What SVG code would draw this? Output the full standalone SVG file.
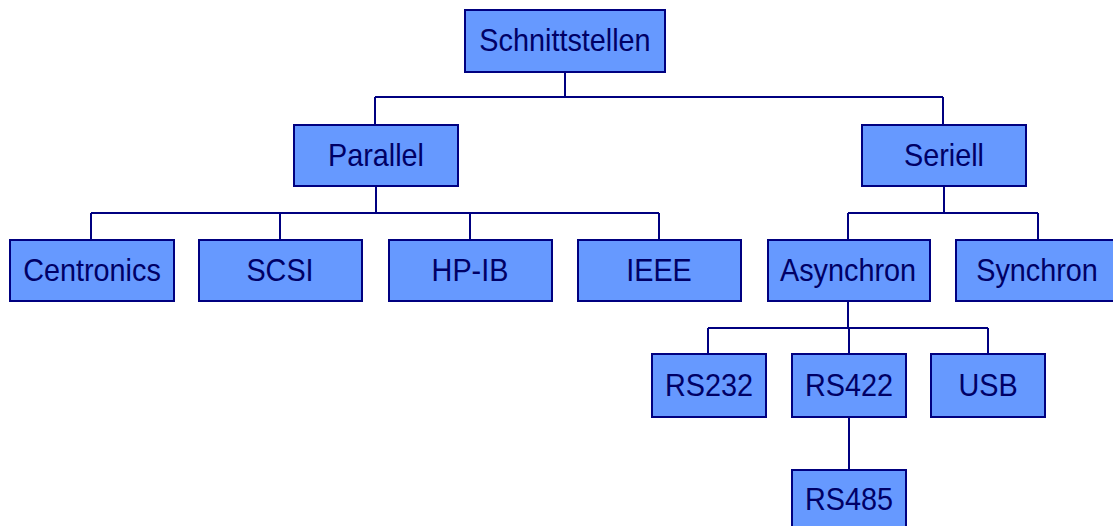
<svg xmlns="http://www.w3.org/2000/svg" width="1113" height="526" viewBox="0 0 1113 526">
  <style>
    .box rect { fill: #6699ff; stroke: #000080; stroke-width: 2; }
    .box text { font-family: "Liberation Sans", Arial, sans-serif; font-size: 32px; fill: #000066; text-anchor: middle; }
    #connectors path { fill: none; stroke: #000080; stroke-width: 2; }
  </style>
  <rect width="1113" height="526" fill="#ffffff"/>

  <g id="connectors">
    <!-- root to first level -->
    <path d="M565 72 V97 M375 97 H943 M375 97 V125 M943 97 V125"/>
    <!-- Parallel branch -->
    <path d="M376 186 V213 M91 213 H659 M91 213 V240 M280 213 V240 M470 213 V240 M659 213 V240"/>
    <!-- Seriell branch -->
    <path d="M944 186 V213 M848 213 H1038 M848 213 V240 M1038 213 V240"/>
    <!-- Asynchron branch -->
    <path d="M848 301 V328 M708 328 H988 M708 328 V354 M849 328 V354 M988 328 V354"/>
    <!-- RS422 to RS485 -->
    <path d="M849 417 V470"/>
  </g>

  <!-- labels are set slightly condensed: scale(0.9 1) around their anchor -->
  <g id="schnittstellen" class="box"><rect x="465" y="10" width="200" height="62"/><text transform="translate(565 51) scale(0.9 1)">Schnittstellen</text></g>
  <g id="parallel" class="box"><rect x="294" y="125" width="164" height="61"/><text transform="translate(376 166) scale(0.9 1)">Parallel</text></g>
  <g id="seriell" class="box"><rect x="862" y="125" width="164" height="61"/><text transform="translate(944 166) scale(0.9 1)">Seriell</text></g>

  <g id="centronics" class="box"><rect x="10" y="240" width="164" height="61"/><text transform="translate(92 281) scale(0.9 1)">Centronics</text></g>
  <g id="scsi" class="box"><rect x="199" y="240" width="163" height="61"/><text transform="translate(280 281) scale(0.9 1)">SCSI</text></g>
  <g id="hpib" class="box"><rect x="389" y="240" width="163" height="61"/><text transform="translate(470 281) scale(0.9 1)">HP-IB</text></g>
  <g id="ieee" class="box"><rect x="578" y="240" width="163" height="61"/><text transform="translate(659 281) scale(0.9 1)">IEEE</text></g>

  <g id="asynchron" class="box"><rect x="768" y="240" width="162" height="61"/><text transform="translate(848 281) scale(0.9 1)">Asynchron</text></g>
  <g id="synchron" class="box"><rect x="956" y="240" width="162" height="61"/><text transform="translate(1037 281) scale(0.9 1)">Synchron</text></g>

  <g id="rs232" class="box"><rect x="652" y="354" width="114" height="63"/><text transform="translate(709 396) scale(0.9 1)">RS232</text></g>
  <g id="rs422" class="box"><rect x="792" y="354" width="114" height="63"/><text transform="translate(849 396) scale(0.9 1)">RS422</text></g>
  <g id="usb" class="box"><rect x="931" y="354" width="114" height="63"/><text transform="translate(988 396) scale(0.9 1)">USB</text></g>

  <g id="rs485" class="box"><rect x="792" y="470" width="114" height="63"/><text transform="translate(849 510) scale(0.9 1)">RS485</text></g>
</svg>
